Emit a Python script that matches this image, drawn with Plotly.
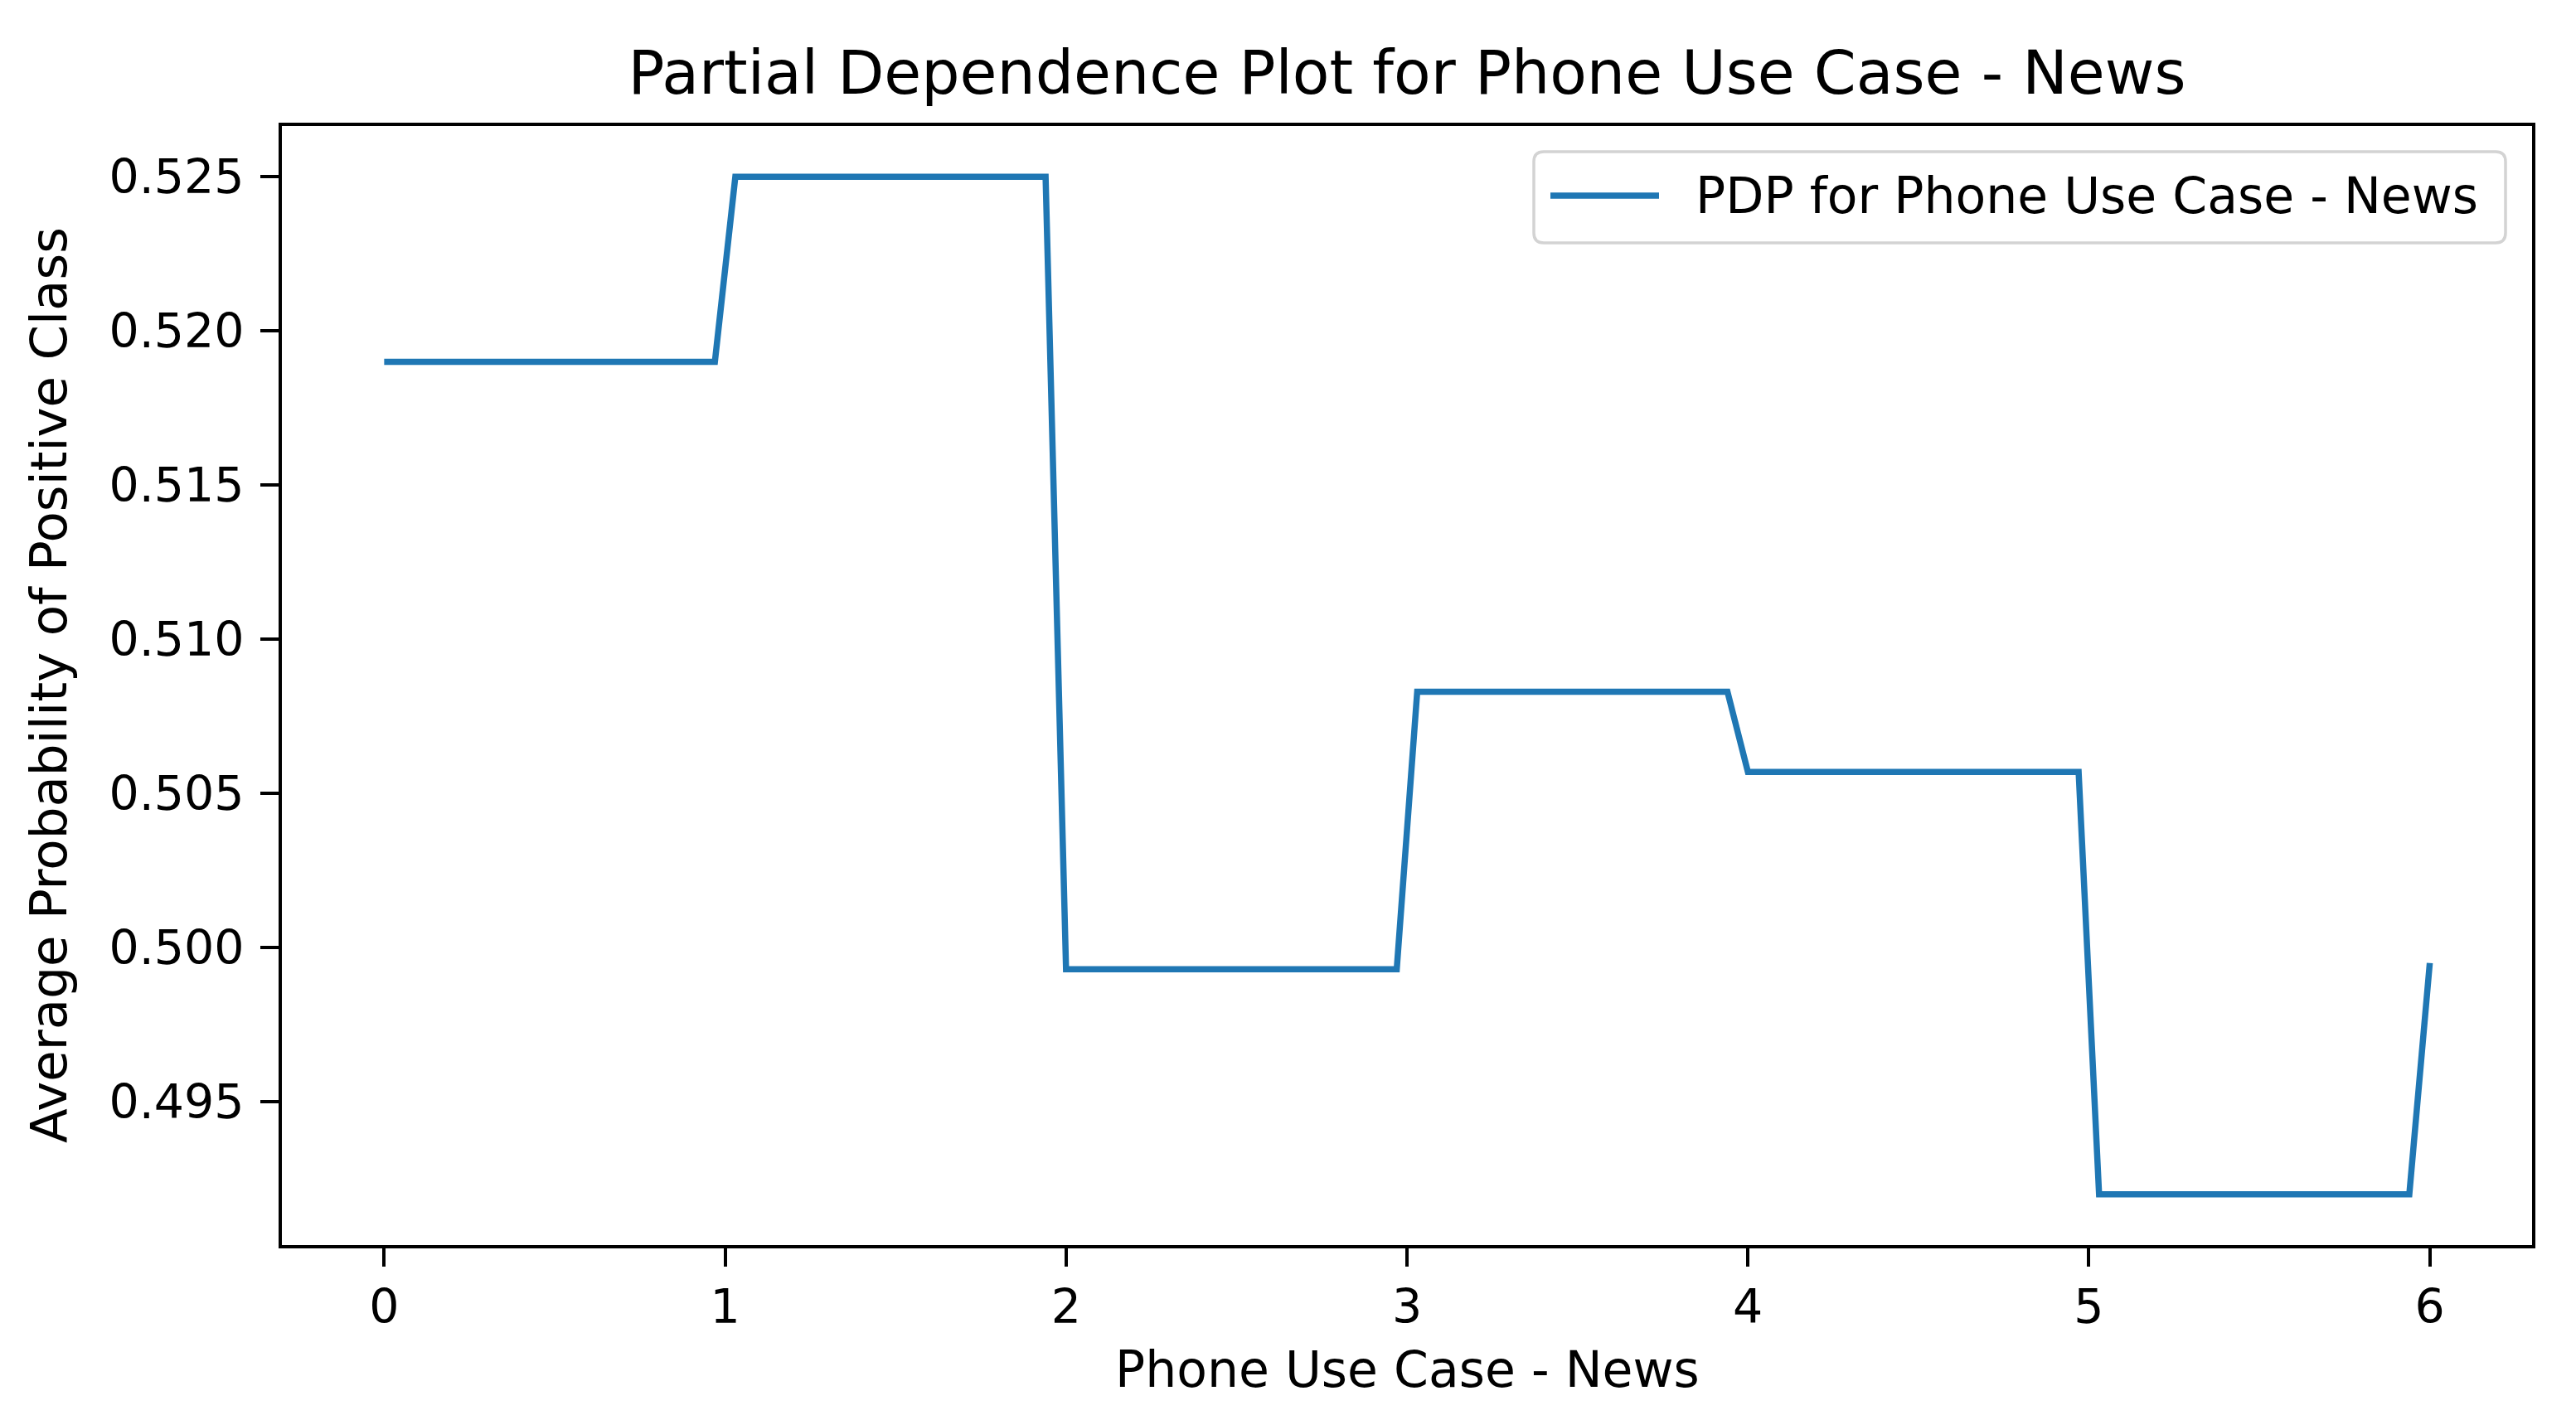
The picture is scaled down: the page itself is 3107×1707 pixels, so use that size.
import plotly.graph_objects as go

# step vertices of the PDP curve
pdp_x = [0.0, 0.97, 1.03, 1.94, 2.0, 2.97, 3.03, 3.94, 4.0, 4.97, 5.03, 5.94, 6.0]
pdp_y = [0.5190, 0.5190, 0.5250, 0.5250, 0.4993, 0.4993, 0.5083, 0.5083,
         0.5057, 0.5057, 0.4920, 0.4920, 0.4995]

x_ticks = [0, 1, 2, 3, 4, 5, 6]
y_ticks = [0.495, 0.500, 0.505, 0.510, 0.515, 0.520, 0.525]
y_tick_labels = ["0.495", "0.500", "0.505", "0.510", "0.515", "0.520", "0.525"]

title = "Partial Dependence Plot for Phone Use Case - News"
x_label = "Phone Use Case - News"
y_label = "Average Probability of Positive Class"
series_name = "PDP for Phone Use Case - News"

LINE_COLOR = "#1f77b4"
FONT = "DejaVu Sans"

W, H = 3107, 1707
L, R, T, B = 340, 53, 152, 205
PW, PH = W - L - R, H - T - B


def px_x(px):
    return (px - L) / PW


def px_y(py):
    return (H - B - py) / PH


def padded(vals, frac=0.05):
    lo, hi = min(vals), max(vals)
    pad = (hi - lo) * frac
    return [lo - pad, hi + pad]


fig = go.Figure()
fig.add_trace(
    go.Scatter(
        x=pdp_x,
        y=pdp_y,
        mode="lines",
        name=series_name,
        line=dict(color=LINE_COLOR, width=7.5),
        showlegend=False,
    )
)

axis_common = dict(
    showline=True,
    linecolor="black",
    linewidth=4,
    mirror=True,
    ticks="outside",
    ticklen=22,
    tickwidth=4,
    tickcolor="black",
    showgrid=False,
    zeroline=False,
    tickfont=dict(family=FONT, size=57, color="black"),
)

fig.update_xaxes(range=padded(pdp_x), tickvals=x_ticks, **axis_common)
fig.update_yaxes(range=padded(pdp_y), tickvals=y_ticks, ticktext=y_tick_labels,
                 ticklabelstandoff=8, **axis_common)

# legend drawn by hand so the sample line is matplotlib-length
lx0, lx1, ly0, ly1, r = 1850, 3022, 183, 293, 12
rx, ry = r / PW, r / PH
x0, x1, y0, y1 = px_x(lx0), px_x(lx1), px_y(ly1), px_y(ly0)
box = (
    f"M {x0 + rx},{y0} L {x1 - rx},{y0} Q {x1},{y0} {x1},{y0 + ry} "
    f"L {x1},{y1 - ry} Q {x1},{y1} {x1 - rx},{y1} "
    f"L {x0 + rx},{y1} Q {x0},{y1} {x0},{y1 - ry} "
    f"L {x0},{y0 + ry} Q {x0},{y0} {x0 + rx},{y0} Z"
)
fig.add_shape(type="path", path=box, xref="paper", yref="paper",
              line=dict(color="#d3d3d3", width=3.5), fillcolor="white")
fig.add_shape(type="line", xref="paper", yref="paper",
              x0=px_x(1870), x1=px_x(2001), y0=px_y(236), y1=px_y(236),
              line=dict(color=LINE_COLOR, width=7.5))
fig.add_annotation(text=series_name, xref="paper", yref="paper",
                   x=px_x(2043), y=px_y(236), xanchor="left", yanchor="middle",
                   showarrow=False, font=dict(family=FONT, size=60, color="black"))

fig.add_annotation(text=x_label, xref="paper", yref="paper",
                   x=0.5, y=px_y(1652), xanchor="center", yanchor="middle",
                   showarrow=False, font=dict(family=FONT, size=60, color="black"))
fig.add_annotation(text=y_label, xref="paper", yref="paper",
                   x=px_x(58), y=0.5, xanchor="center", yanchor="middle",
                   textangle=-90, showarrow=False,
                   font=dict(family=FONT, size=61, color="black"))

fig.update_layout(
    width=W,
    height=H,
    margin=dict(l=L, r=R, t=T, b=B),
    paper_bgcolor="white",
    plot_bgcolor="white",
    title=dict(text=title, x=0.5, xref="paper", y=1 - 87 / H, yref="container",
               xanchor="center", yanchor="middle",
               font=dict(family=FONT, size=73, color="black")),
)

# drop the browser's default body margin so the figure sits at the page origin
fig.write_html("out.html", config={"displayModeBar": False},
               post_script="document.body.style.margin='0';")
